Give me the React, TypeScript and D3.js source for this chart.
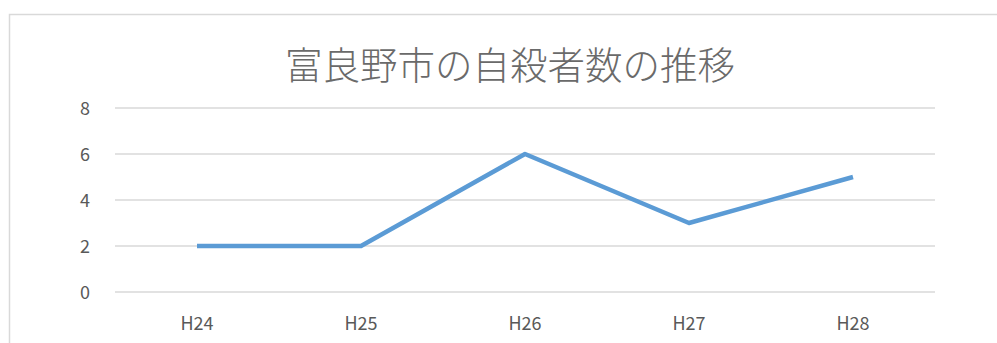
import React from "react";
import * as d3 from "d3";

const categories = ["H24", "H25", "H26", "H27", "H28"];
const values = [2, 2, 6, 3, 5];
const yTicks = [0, 2, 4, 6, 8];
const title = "富良野市の自殺者数の推移";

export default function App() {
  const W = 997, H = 343;
  const x = d3.scaleBand<string>().domain(categories).range([115, 935]);
  const y = d3.scaleLinear().domain([0, 8]).range([292, 108]);
  const line = d3.line<number>()
    .x((_, i) => (x(categories[i]) as number) + x.bandwidth() / 2)
    .y((d) => y(d));
  const font = "'Noto Sans CJK JP', 'Noto Sans', sans-serif";
  return (
    <svg width={W} height={H} style={{ position: "absolute", left: 0, top: 0 }}>
      <rect x={0} y={0} width={W} height={H} fill="#fff" />
      <path d={`M9.5,${H} L9.5,14.5 L${W},14.5`} fill="none" stroke="#d9d9d9" strokeWidth={1.5} />
      {yTicks.map((t) => (
        <g key={t}>
          <line x1={115} x2={935} y1={y(t)} y2={y(t)} stroke="#d9d9d9" strokeWidth={1.5} />
          <text x={90} y={y(t) + 1} dy="0.35em" textAnchor="end" fontSize={18} fill="#595959" fontFamily={font}>{t}</text>
        </g>
      ))}
      {categories.map((c) => (
        <text key={c} x={(x(c) as number) + x.bandwidth() / 2} y={324} dy="0.35em" textAnchor="middle" fontSize={18} fill="#595959" fontFamily={font}>{c}</text>
      ))}
      <path d={line(values) || ""} fill="none" stroke="#5b9bd5" strokeWidth={4.5} strokeLinejoin="round" />
      <text x={510} y={66} dy="0.35em" textAnchor="middle" fontSize={37.5} fontWeight={300} fill="#6a6a6a" fontFamily={font}>{title}</text>
    </svg>
  );
}
